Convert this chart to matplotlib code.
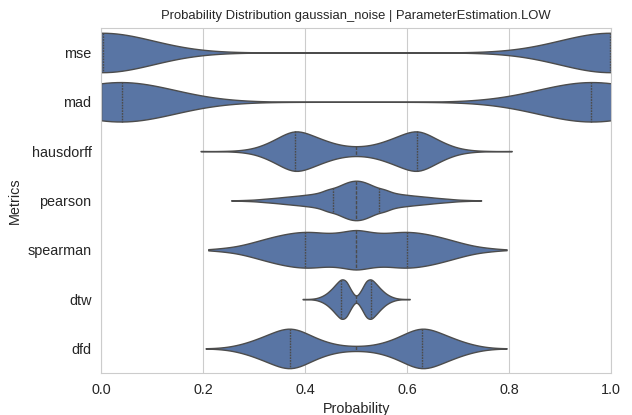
import numpy as np
import pandas as pd
import matplotlib
matplotlib.use("Agg")
import matplotlib.pyplot as plt
import seaborn as sns

# Metric order (top to bottom)
metrics = ["mse", "mad", "hausdorff", "pearson", "spearman", "dtw", "dfd"]

mse_values = [0.0, 0.003, 0.997, 1.0]
mse_counts = [20, 30, 30, 20]

mad_values = [0.0, 0.01, 0.02, 0.03, 0.04, 0.05, 0.06, 0.07, 0.08, 0.10,
              0.90, 0.92, 0.93, 0.94, 0.95, 0.96, 0.97, 0.98, 0.99, 1.0]
mad_counts = [6, 6, 6, 6, 6, 6, 5, 4, 3, 2,
              2, 3, 4, 5, 6, 6, 6, 6, 6, 6]

hausdorff_values = [0.195, 0.24, 0.26, 0.28, 0.30, 0.32, 0.34, 0.36, 0.38,
                    0.40, 0.42, 0.44, 0.46, 0.48, 0.50, 0.52, 0.54, 0.56,
                    0.58, 0.60, 0.62, 0.64, 0.66, 0.68, 0.70, 0.72, 0.74,
                    0.76, 0.805]
hausdorff_counts = [1, 1, 2, 6, 14, 30, 52, 78, 95,
                    85, 66, 48, 33, 24, 21, 24, 33, 48,
                    66, 85, 95, 78, 52, 30, 14, 6, 2,
                    1, 1]

pearson_values = [0.255, 0.28, 0.30, 0.32, 0.34, 0.36, 0.38, 0.40, 0.42,
                  0.44, 0.455, 0.47, 0.485, 0.50, 0.515, 0.53, 0.545, 0.56,
                  0.58, 0.60, 0.62, 0.64, 0.66, 0.68, 0.70, 0.72, 0.745]
pearson_counts = [1, 3, 5, 11, 16, 23, 29, 36, 44,
                  60, 55, 75, 92, 100, 92, 75, 55, 60,
                  44, 36, 29, 23, 16, 11, 5, 3, 1]

spearman_values = [0.21, 0.22, 0.24, 0.26, 0.28, 0.30, 0.32, 0.34, 0.36,
                   0.38, 0.40, 0.42, 0.44, 0.46, 0.48, 0.50, 0.52, 0.54,
                   0.56, 0.58, 0.60, 0.62, 0.64, 0.66, 0.68, 0.70, 0.72,
                   0.74, 0.76, 0.78, 0.795]
spearman_counts = [1, 4, 9, 15, 25, 38, 52, 65, 76,
                   84, 88, 86, 81, 82, 90, 100, 90, 82,
                   81, 86, 88, 84, 76, 65, 52, 38, 25,
                   15, 9, 4, 1]

dtw_values = [0.395, 0.41, 0.42, 0.43, 0.44, 0.45, 0.46, 0.47, 0.48, 0.49,
              0.50, 0.51, 0.52, 0.53, 0.54, 0.55, 0.56, 0.57, 0.58, 0.59,
              0.605]
dtw_counts = [1, 1, 3, 10, 22, 42, 68, 95, 90, 40,
              4, 40, 90, 95, 68, 42, 22, 10, 3, 1,
              1]

dfd_values = [0.205, 0.23, 0.25, 0.27, 0.29, 0.31, 0.33, 0.35, 0.37,
              0.39, 0.41, 0.43, 0.45, 0.47, 0.49, 0.51, 0.53, 0.55,
              0.57, 0.59, 0.61, 0.63, 0.65, 0.67, 0.69, 0.71, 0.73,
              0.75, 0.77, 0.795]
dfd_counts = [1, 3, 8, 18, 32, 50, 70, 90, 100,
              88, 64, 42, 26, 16, 12, 12, 16, 26,
              42, 64, 88, 100, 90, 70, 50, 32, 18,
              8, 3, 1]

table = {
    "mse": (mse_values, mse_counts),
    "mad": (mad_values, mad_counts),
    "hausdorff": (hausdorff_values, hausdorff_counts),
    "pearson": (pearson_values, pearson_counts),
    "spearman": (spearman_values, spearman_counts),
    "dtw": (dtw_values, dtw_counts),
    "dfd": (dfd_values, dfd_counts),
}
# kernel bandwidth tweak per metric
bw = {"mse": 0.5, "mad": 0.55, "hausdorff": 0.45, "pearson": 0.6,
      "spearman": 0.5, "dtw": 0.62, "dfd": 0.4}

sns.set_style("whitegrid")
plt.rcParams["font.family"] = ["Liberation Sans", "DejaVu Sans"]

fig, ax = plt.subplots(figsize=(6.32, 4.15), dpi=100)
fig.subplots_adjust(left=0.16, right=0.967, top=0.933, bottom=0.101)

for name in metrics:
    vals, counts = table[name]
    probs = np.repeat(vals, counts)
    df = pd.DataFrame({"Probability": probs, "Metrics": name})
    sns.violinplot(data=df, x="Probability", y="Metrics", order=metrics,
                   orient="h", cut=0, inner="quart", density_norm="width",
                   bw_adjust=bw[name], color="#4c72b0", linewidth=1, ax=ax)

ax.set_xlim(0, 1)
ax.set_title("Probability Distribution gaussian_noise | ParameterEstimation.LOW",
             fontsize=9.4)
ax.set_xlabel("Probability", fontsize=10.4)
ax.set_ylabel("Metrics", fontsize=10.4)
ax.tick_params(axis="both", labelsize=10.4)

fig.savefig("out.png", dpi=100)
